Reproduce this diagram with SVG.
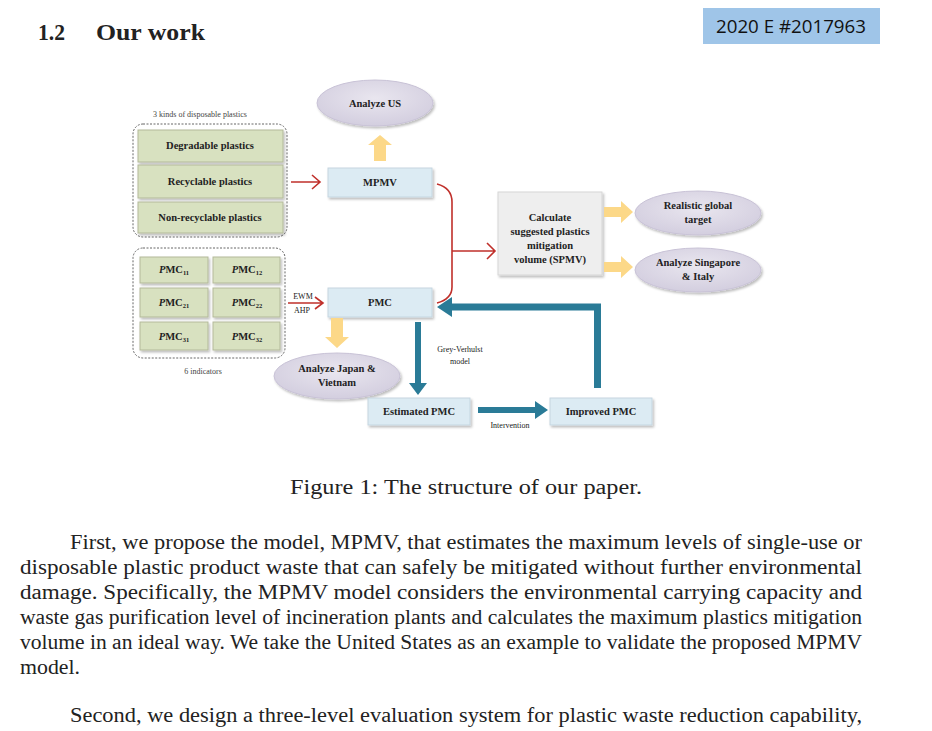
<svg xmlns="http://www.w3.org/2000/svg" width="932" height="731" viewBox="0 0 932 731">
<defs>
<filter id="sh" x="-10%" y="-10%" width="125%" height="140%">
<feDropShadow dx="1.5" dy="2" stdDeviation="1.2" flood-color="#000" flood-opacity="0.25"/>
</filter>
<radialGradient id="lav" cx="50%" cy="40%" r="60%">
<stop offset="0" stop-color="#e9e6ef"/>
<stop offset="1" stop-color="#d3cedf"/>
</radialGradient>
<style>
.t{font-family:"Liberation Serif","Times New Roman",serif;fill:#222}
.b{font-weight:bold;font-size:10.5px;text-anchor:middle}
.s{font-size:8px;text-anchor:middle;fill:#444}
.green{fill:#d8e1c0;stroke:#b3b99a;stroke-width:1}
.blue{fill:#dcebf3;stroke:#c5d6e0;stroke-width:1}
.ell{fill:url(#lav);stroke:#c8c2d6;stroke-width:1}
.yel{fill:#fcd888}
.tl{fill:#2a7b97}
.red{fill:none;stroke:#c0302b;stroke-width:1.6}
.dash{fill:none;stroke:#666;stroke-width:1;stroke-dasharray:2 1.5}
.p{font-family:"Liberation Serif","Times New Roman",serif;font-size:20.5px;fill:#222}
</style>
</defs>
<rect width="932" height="731" fill="#ffffff"/>

<g id="header">
<text class="t" x="38" y="40" font-size="24" font-weight="bold" textLength="27" lengthAdjust="spacingAndGlyphs">1.2</text>
<text class="t" x="96" y="40" font-size="24" font-weight="bold" textLength="109" lengthAdjust="spacingAndGlyphs">Our work</text>
<rect x="703" y="8" width="177" height="36" fill="#9fc5e8"/>
<text x="791" y="33" font-family="'Open Sans','Liberation Sans',sans-serif" font-size="18" text-anchor="middle" fill="#111" textLength="150" lengthAdjust="spacingAndGlyphs">2020 E #2017963</text>
</g>

<g id="plastics">
<text class="t s" x="200" y="117">3 kinds of disposable plastics</text>
<rect class="dash" x="133" y="124" width="154" height="113" rx="10"/>
<rect class="green" x="138" y="130" width="145" height="32" filter="url(#sh)"/>
<rect class="green" x="138" y="165" width="145" height="33" filter="url(#sh)"/>
<rect class="green" x="138" y="202" width="145" height="31" filter="url(#sh)"/>
<text class="t b" x="210" y="149">Degradable plastics</text>
<text class="t b" x="210" y="185">Recyclable plastics</text>
<text class="t b" x="210" y="221">Non-recyclable plastics</text>
</g>

<g id="indicators">
<rect class="dash" x="133" y="248" width="152" height="110" rx="10"/>
<rect class="green" x="140" y="257" width="68" height="26" filter="url(#sh)"/>
<rect class="green" x="213" y="257" width="67" height="26" filter="url(#sh)"/>
<rect class="green" x="140" y="288" width="68" height="29" filter="url(#sh)"/>
<rect class="green" x="213" y="288" width="67" height="29" filter="url(#sh)"/>
<rect class="green" x="140" y="322" width="68" height="28" filter="url(#sh)"/>
<rect class="green" x="213" y="322" width="67" height="28" filter="url(#sh)"/>
<text class="t b" x="174" y="273"><tspan font-style="italic">P</tspan>MC<tspan font-size="6.5" dy="2">11</tspan></text>
<text class="t b" x="247" y="273"><tspan font-style="italic">P</tspan>MC<tspan font-size="6.5" dy="2">12</tspan></text>
<text class="t b" x="174" y="306"><tspan font-style="italic">P</tspan>MC<tspan font-size="6.5" dy="2">21</tspan></text>
<text class="t b" x="247" y="306"><tspan font-style="italic">P</tspan>MC<tspan font-size="6.5" dy="2">22</tspan></text>
<text class="t b" x="174" y="340"><tspan font-style="italic">P</tspan>MC<tspan font-size="6.5" dy="2">31</tspan></text>
<text class="t b" x="247" y="340"><tspan font-style="italic">P</tspan>MC<tspan font-size="6.5" dy="2">32</tspan></text>
<text class="t s" x="203" y="374">6 indicators</text>
</g>

<g id="mpmv">
<rect class="blue" x="328" y="168" width="104" height="29" filter="url(#sh)"/>
<text class="t b" x="380" y="186">MPMV</text>
</g>
<g id="pmc">
<rect class="blue" x="328" y="288" width="104" height="29" filter="url(#sh)"/>
<text class="t b" x="380" y="306">PMC</text>
</g>
<g id="analyze-us">
<ellipse class="ell" cx="375" cy="103" rx="58" ry="23" filter="url(#sh)"/>
<text class="t b" x="375" y="107">Analyze US</text>
</g>
<g id="analyze-japan">
<ellipse class="ell" cx="337" cy="376" rx="63" ry="23" filter="url(#sh)"/>
<text class="t b" x="337" y="372">Analyze Japan &amp;</text>
<text class="t b" x="337" y="386">Vietnam</text>
</g>
<g id="spmv">
<rect x="498" y="192" width="104" height="83" fill="#eeeeee" stroke="#d6d6d6" filter="url(#sh)"/>
<text class="t b" x="550" y="221">Calculate</text>
<text class="t b" x="550" y="235">suggested plastics</text>
<text class="t b" x="550" y="249">mitigation</text>
<text class="t b" x="550" y="263">volume (SPMV)</text>
</g>
<g id="realistic">
<ellipse class="ell" cx="698" cy="213" rx="63" ry="22" filter="url(#sh)"/>
<text class="t b" x="698" y="209">Realistic global</text>
<text class="t b" x="698" y="223">target</text>
</g>
<g id="singapore">
<ellipse class="ell" cx="698" cy="270" rx="63" ry="22" filter="url(#sh)"/>
<text class="t b" x="698" y="266">Analyze Singapore</text>
<text class="t b" x="698" y="280">&amp; Italy</text>
</g>
<g id="estimated">
<rect class="blue" x="368" y="398" width="102" height="27" filter="url(#sh)"/>
<text class="t b" x="419" y="415">Estimated PMC</text>
</g>
<g id="improved">
<rect class="blue" x="550" y="398" width="102" height="27" filter="url(#sh)"/>
<text class="t b" x="601" y="415">Improved PMC</text>
</g>

<g id="connectors">
<path class="red" d="M291,182 H320 M312,175 L320,182 L312,189"/>
<path class="red" d="M288,303 H323 M315,297 L323,303 L315,309" stroke-width="2"/>
<text class="t" x="303" y="299" font-size="8" text-anchor="middle" fill="#444">EWM</text>
<text class="t" x="302" y="313" font-size="8" text-anchor="middle" fill="#444">AHP</text>
<path class="red" d="M437,184 Q452,188 452,202 V287 Q452,299 437,303"/>
<path class="red" d="M452,251 H495 M487,243 L495,251 L487,259"/>
<path class="yel" d="M374,161 V145 H368 L380,135 L392,145 H386 V161 Z"/>
<path class="yel" d="M331,318 V337 H325 L337,348 L349,337 H343 V318 Z"/>
<path class="yel" d="M604,207 H621 V201 L633,212 L621,223 V217 H604 Z"/>
<path class="yel" d="M604,262 H621 V256 L633,267 L621,278 V272 H604 Z"/>
<path class="tl" d="M415,322 H421 V383 H427 L418,395 L409,383 H415 Z"/>
<path class="tl" d="M478,407 H535 V401 L548,410 L535,419 V413 H478 Z"/>
<path class="tl" d="M594,388 V310.5 H452 V317 L437,307 L452,297 V303.5 H601 V388 Z"/>
<text class="t" x="460" y="352" font-size="8" text-anchor="middle" fill="#444">Grey-Verhulst</text>
<text class="t" x="460" y="364" font-size="8" text-anchor="middle" fill="#444">model</text>
<text class="t" x="510" y="428" font-size="8" text-anchor="middle" fill="#444">Intervention</text>
</g>

<g id="caption">
<text class="t" x="466" y="494" font-size="20" text-anchor="middle" textLength="352" lengthAdjust="spacingAndGlyphs">Figure 1: The structure of our paper.</text>
</g>

<g id="body">
<text class="p" x="70" y="549" textLength="792" lengthAdjust="spacingAndGlyphs">First, we propose the model, MPMV, that estimates the maximum levels of single-use or</text>
<text class="p" x="20" y="574" textLength="842" lengthAdjust="spacingAndGlyphs">disposable plastic product waste that can safely be mitigated without further environmental</text>
<text class="p" x="20" y="599" textLength="842" lengthAdjust="spacingAndGlyphs">damage.  Specifically, the MPMV model considers the environmental carrying capacity and</text>
<text class="p" x="20" y="624" textLength="842" lengthAdjust="spacingAndGlyphs">waste gas purification level of incineration plants and calculates the maximum plastics mitigation</text>
<text class="p" x="20" y="649" textLength="842" lengthAdjust="spacingAndGlyphs">volume in an ideal way.  We take the United States as an example to validate the proposed MPMV</text>
<text class="p" x="20" y="674" textLength="60" lengthAdjust="spacingAndGlyphs">model.</text>
<text class="p" x="70" y="722" textLength="792" lengthAdjust="spacingAndGlyphs">Second, we design a three-level evaluation system for plastic waste reduction capability,</text>
</g>
</svg>
